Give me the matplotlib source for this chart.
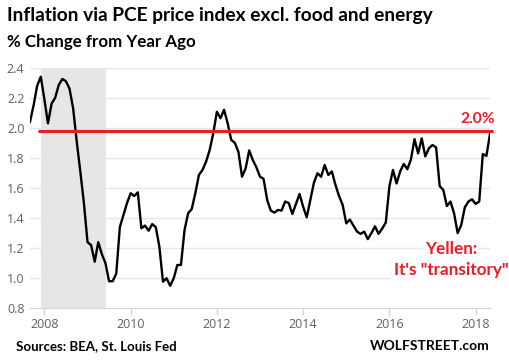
import numpy as np
import matplotlib
matplotlib.use("Agg")
import matplotlib.pyplot as plt

# Core PCE price index, % change from year ago, monthly from Sep 2007
start_year = 2007
start_month = 9
pce_core = [
    2.04, 2.15, 2.28, 2.34, 2.19, 2.03, 2.16, 2.20, 2.285, 2.325, 2.31, 2.26,
    2.13, 1.91, 1.71, 1.50, 1.24, 1.22, 1.11, 1.24, 1.16, 1.10, 0.98, 0.98,
    1.03, 1.34, 1.42, 1.50, 1.565, 1.547, 1.571, 1.332, 1.35, 1.316, 1.36, 1.34,
    1.21, 0.977, 1.00, 0.95, 1.00, 1.088, 1.088, 1.32, 1.432, 1.46, 1.565, 1.687,
    1.72, 1.775, 1.853, 1.964, 2.107, 2.064, 2.12, 2.03, 1.92, 1.90, 1.84, 1.675,
    1.73, 1.85, 1.786, 1.738, 1.675, 1.66, 1.52, 1.45, 1.436, 1.454, 1.45, 1.51,
    1.50, 1.427, 1.494, 1.56, 1.476, 1.405, 1.52, 1.635, 1.698, 1.675, 1.753, 1.687,
    1.71, 1.62, 1.547, 1.487, 1.365, 1.39, 1.35, 1.31, 1.295, 1.31, 1.26, 1.30,
    1.345, 1.295, 1.33, 1.37, 1.61, 1.72, 1.63, 1.71, 1.76, 1.725, 1.79, 1.925,
    1.83, 1.93, 1.81, 1.864, 1.886, 1.87, 1.613, 1.587, 1.48, 1.51, 1.432, 1.30,
    1.354, 1.472, 1.51, 1.525, 1.494, 1.51, 1.826, 1.813, 1.96,
]
recession = (2007.92, 2009.42)
target = 1.98
y_ticks = [0.8, 1.0, 1.2, 1.4, 1.6, 1.8, 2.0, 2.2, 2.4]
x_ticks = [2008, 2010, 2012, 2014, 2016, 2018]

t = start_year + (start_month - 1) / 12 + np.arange(len(pce_core)) / 12

red = "#ed1c24"
fig = plt.figure(figsize=(5.1, 3.63), dpi=100)
ax = fig.add_axes([30 / 510, 1 - 308.3 / 363, 460 / 510, 240.6 / 363])

ax.axvspan(recession[0], recession[1], color="#e6e6e6", zorder=0, lw=0)
for v in y_ticks[1:]:
    ax.axhline(v, color="#e6e6e6", lw=1, zorder=0.5)

ax.plot(t, pce_core, color="black", lw=1.7, zorder=3)
ax.plot([2007.85, 2018.396], [target, target], color=red, lw=2.3,
        zorder=4, clip_on=False, solid_capstyle="butt")

ax.set_xlim(t[0], t[-1])
ax.set_ylim(0.8, 2.4)
ax.set_yticks(y_ticks)
ax.set_yticklabels([f"{v:.1f}" for v in y_ticks])
ax.set_xticks(x_ticks)
ax.set_xticklabels([str(v) for v in x_ticks])

for s in ["top", "right", "left"]:
    ax.spines[s].set_visible(False)
ax.spines["bottom"].set_color("#ccd6eb")
ax.spines["bottom"].set_zorder(1)
ax.tick_params(axis="y", length=0, pad=4, labelsize=9, labelcolor="#606060")
ax.tick_params(axis="x", length=5, width=1, color="#ccd6eb", pad=2,
               labelsize=9, labelcolor="#606060")
for lab in ax.get_xticklabels() + ax.get_yticklabels():
    lab.set_family("Open Sans")

fig.text(7 / 510, 1 - 15 / 363, "Inflation via PCE price index excl. food and energy",
         family="Lato", weight="bold", fontsize=13.8, va="center", ha="left")
fig.text(7 / 510, 1 - 42 / 363, "% Change from Year Ago",
         family="Lato", weight="bold", fontsize=12.2, va="center", ha="left")
fig.text(16 / 510, 1 - 346 / 363, "Sources: BEA, St. Louis Fed",
         family="Lato", weight="bold", fontsize=9.5, va="center", ha="left")
fig.text(490 / 510, 1 - 346 / 363, "WOLFSTREET.com",
         family="Lato", weight="bold", fontsize=10, va="center", ha="right")

fig.text(495 / 510, 1 - 119 / 363, "2.0%", color=red,
         family="Lato", weight="bold", fontsize=11.2, va="center", ha="right")
fig.text(451 / 510, 1 - 249 / 363, "Yellen:", color=red,
         family="Lato", weight="bold", fontsize=12.3, va="center", ha="center",
         bbox=dict(facecolor="white", edgecolor="none", pad=1.5))
fig.text(451 / 510, 1 - 270 / 363, "It's \"transitory\"", color=red,
         family="Lato", weight="bold", fontsize=12.3, va="center", ha="center",
         bbox=dict(facecolor="white", edgecolor="none", pad=2.5))

fig.savefig("out.png", dpi=100)
